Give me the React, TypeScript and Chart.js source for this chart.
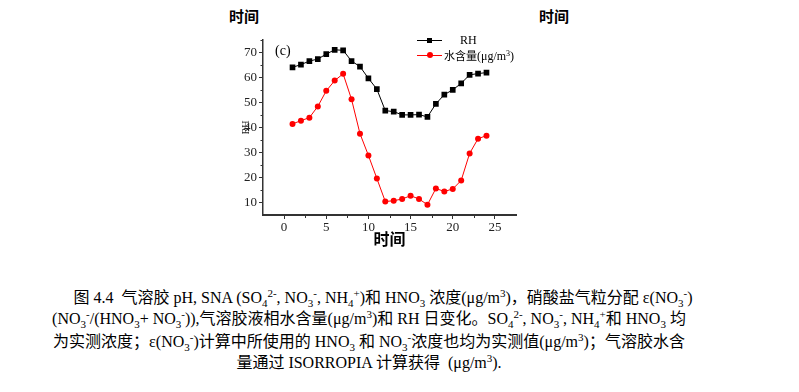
import React, { useEffect, useRef } from "react";
import { Chart, registerables } from "chart.js";

Chart.register(...registerables);

// ---- data ----
const HOURS = [1, 2, 3, 4, 5, 6, 7, 8, 9, 10, 11, 12, 13, 14, 15, 16, 17, 18, 19, 20, 21, 22, 23, 24];
const RH = [64.0, 65.1, 66.5, 67.3, 69.3, 71.0, 70.8, 66.5, 64.3, 59.6, 55.3, 46.7, 46.3, 45.0, 45.0, 45.1, 44.2, 49.4, 53.1, 55.0, 57.6, 61.0, 61.5, 61.9];
const WATER = [41.4, 42.7, 43.9, 48.4, 54.6, 58.7, 61.4, 51.2, 37.5, 28.8, 19.6, 10.4, 10.7, 11.4, 12.7, 11.4, 9.1, 15.6, 14.4, 15.4, 18.8, 29.6, 35.5, 36.7];
const X_TICKS = [0, 5, 10, 15, 20, 25];
const Y_TICKS = [10, 20, 30, 40, 50, 60, 70];
const X_MINOR = [2.5, 7.5, 12.5, 17.5, 22.5];
const Y_MINOR = [15, 25, 35, 45, 55, 65, 75];
const SERIES_NAMES = ["RH", "水含量"];

const SERIF = '"Liberation Serif", "Times New Roman", serif';
const CJK = '"Noto Sans CJK SC", sans-serif';
const MIX = '"Liberation Serif", "Noto Sans CJK SC", serif';
const AXIS = "#333";

const minorTicks = {
  id: "minorTicks",
  afterDraw(chart: any) {
    const { ctx, scales, chartArea } = chart;
    const x = scales.x;
    const y = scales.y;
    ctx.save();
    ctx.strokeStyle = AXIS;
    ctx.lineWidth = 1;
    Y_MINOR.forEach((v) => {
      const py = Math.round(y.getPixelForValue(v)) + 0.5;
      ctx.beginPath();
      ctx.moveTo(chartArea.left, py);
      ctx.lineTo(chartArea.left - 2.5, py);
      ctx.stroke();
    });
    X_MINOR.forEach((v) => {
      const px = Math.round(x.getPixelForValue(v)) + 0.5;
      ctx.beginPath();
      ctx.moveTo(px, chartArea.bottom);
      ctx.lineTo(px, chartArea.bottom + 3);
      ctx.stroke();
    });
    ctx.restore();
  },
};

const Sub = ({ children }: any) => (
  <span style={{ fontSize: 11, position: "relative", top: 4 }}>{children}</span>
);
const Sup = ({ children }: any) => (
  <span style={{ fontSize: 11, position: "relative", top: -6 }}>{children}</span>
);

function ChartBox() {
  const ref = useRef<HTMLCanvasElement | null>(null);
  useEffect(() => {
    if (!ref.current) return;
    const chart = new Chart(ref.current, {
      type: "line",
      data: {
        datasets: [
          {
            label: SERIES_NAMES[0],
            data: HOURS.map((h, i) => ({ x: h, y: RH[i] })),
            borderColor: "#000",
            backgroundColor: "#000",
            borderWidth: 1,
            pointStyle: "rect",
            pointRadius: 4,
            pointBorderWidth: 0,
            tension: 0,
          },
          {
            label: SERIES_NAMES[1],
            data: HOURS.map((h, i) => ({ x: h, y: WATER[i] })),
            borderColor: "#ff0000",
            backgroundColor: "#ff0000",
            borderWidth: 1,
            pointStyle: "circle",
            pointRadius: 3,
            pointBorderWidth: 0,
            tension: 0,
          },
        ],
      },
      options: {
        animation: false,
        responsive: false,
        devicePixelRatio: 1,
        layout: { padding: { left: 0, top: 9, right: 14, bottom: 0 } },
        plugins: { legend: { display: false }, tooltip: { enabled: false } },
        scales: {
          x: {
            type: "linear",
            min: -2.5,
            max: 27.5,
            afterBuildTicks: (s: any) => {
              s.ticks = X_TICKS.map((v) => ({ value: v }));
            },
            afterFit: (s: any) => {
              s.height = 40;
            },
            border: { display: true, color: AXIS, width: 2 },
            grid: { drawOnChartArea: false, drawTicks: true, tickLength: 4, tickColor: AXIS, tickWidth: 1 },
            ticks: { color: "#222", font: { family: SERIF, size: 13 }, padding: 1, maxRotation: 0 },
            title: {
              display: true,
              text: "时间",
              color: "#000",
              font: { family: CJK, size: 16, weight: "bold" },
              padding: { top: 0, bottom: 6 },
            },
          },
          y: {
            type: "linear",
            min: 5,
            max: 75,
            afterBuildTicks: (s: any) => {
              s.ticks = Y_TICKS.map((v) => ({ value: v }));
            },
            afterFit: (s: any) => {
              s.width = 43;
            },
            border: { display: true, color: AXIS, width: 1.5 },
            grid: { drawOnChartArea: false, drawTicks: true, tickLength: 4, tickColor: AXIS, tickWidth: 1 },
            ticks: { color: "#222", font: { family: SERIF, size: 13 }, padding: 2 },
            title: {
              display: true,
              text: "RH",
              color: "#222",
              font: { family: SERIF, size: 10 },
              padding: { top: 20, bottom: 0 },
            },
          },
        },
      },
      plugins: [minorTicks],
    } as any);
    return () => chart.destroy();
  }, []);
  return (
    <canvas
      ref={ref}
      width={310}
      height={225}
      style={{ position: "absolute", left: 220, top: 30, width: 310, height: 225 }}
    />
  );
}

const lineStyle = (top: number, shift = 0): React.CSSProperties => ({
  position: "absolute",
  left: shift,
  top,
  width: 738,
  height: 22,
  lineHeight: "22px",
  textAlign: "center",
  whiteSpace: "nowrap",
  fontFamily: MIX,
  fontSize: 16,
  color: "#000",
});

export default function App() {
  return (
    <div
      style={{
        position: "absolute",
        left: 0,
        top: 0,
        width: 799,
        height: 392,
        background: "#fff",
        overflow: "hidden",
      }}
    >
      <div style={{ position: "absolute", left: 224, top: 6, width: 40, textAlign: "center", fontFamily: CJK, fontWeight: "bold", fontSize: 15, lineHeight: "20px" }}>时间</div>
      <div style={{ position: "absolute", left: 534, top: 6, width: 40, textAlign: "center", fontFamily: CJK, fontWeight: "bold", fontSize: 15, lineHeight: "20px" }}>时间</div>

      <ChartBox />

      {/* panel label */}
      <div style={{ position: "absolute", left: 275, top: 42, fontFamily: SERIF, fontSize: 14, lineHeight: "18px" }}>(c)</div>

      {/* legend */}
      <div style={{ position: "absolute", left: 417, top: 40, width: 25, height: 1, background: "#000" }} />
      <div style={{ position: "absolute", left: 427, top: 38, width: 5, height: 5, background: "#000" }} />
      <div style={{ position: "absolute", left: 460, top: 33, fontFamily: SERIF, fontSize: 12, lineHeight: "15px" }}>{SERIES_NAMES[0]}</div>
      <div style={{ position: "absolute", left: 417, top: 55, width: 25, height: 1, background: "#ff0000" }} />
      <div style={{ position: "absolute", left: 427, top: 52, width: 6, height: 6, borderRadius: 3, background: "#ff0000" }} />
      <div style={{ position: "absolute", left: 444, top: 48, fontFamily: MIX, fontSize: 12, lineHeight: "15px", whiteSpace: "nowrap" }}>
        <span style={{ fontFamily: CJK, fontSize: 11 }}>{SERIES_NAMES[1]}</span>(μg/m<span style={{ fontSize: 8, position: "relative", top: -4 }}>3</span>)
      </div>

      {/* caption */}
      <div style={lineStyle(287, 14)}>
        图 4.4&nbsp; 气溶胶 pH, SNA (SO<Sub>4</Sub><Sup>2-</Sup>, NO<Sub>3</Sub><Sup>-</Sup>, NH<Sub>4</Sub><Sup>+</Sup>)和 HNO<Sub>3</Sub> 浓度(μg/m<Sup>3</Sup>)，硝酸盐气粒分配 ε(NO<Sub>3</Sub><Sup>-</Sup>)
      </div>
      <div style={lineStyle(308)}>
        (NO<Sub>3</Sub><Sup>-</Sup>/(HNO<Sub>3</Sub>+ NO<Sub>3</Sub><Sup>-</Sup>)),气溶胶液相水含量(μg/m<Sup>3</Sup>)和 RH 日变化。SO<Sub>4</Sub><Sup>2-</Sup>, NO<Sub>3</Sub><Sup>-</Sup>, NH<Sub>4</Sub><Sup>+</Sup>和 HNO<Sub>3</Sub> 均
      </div>
      <div style={lineStyle(331)}>
        为实测浓度；ε(NO<Sub>3</Sub><Sup>-</Sup>)计算中所使用的 HNO<Sub>3</Sub> 和 NO<Sub>3</Sub><Sup>-</Sup>浓度也均为实测值(μg/m<Sup>3</Sup>)；气溶胶水含
      </div>
      <div style={lineStyle(352)}>
        量通过 ISORROPIA 计算获得&nbsp; (μg/m<Sup>3</Sup>).
      </div>
    </div>
  );
}
